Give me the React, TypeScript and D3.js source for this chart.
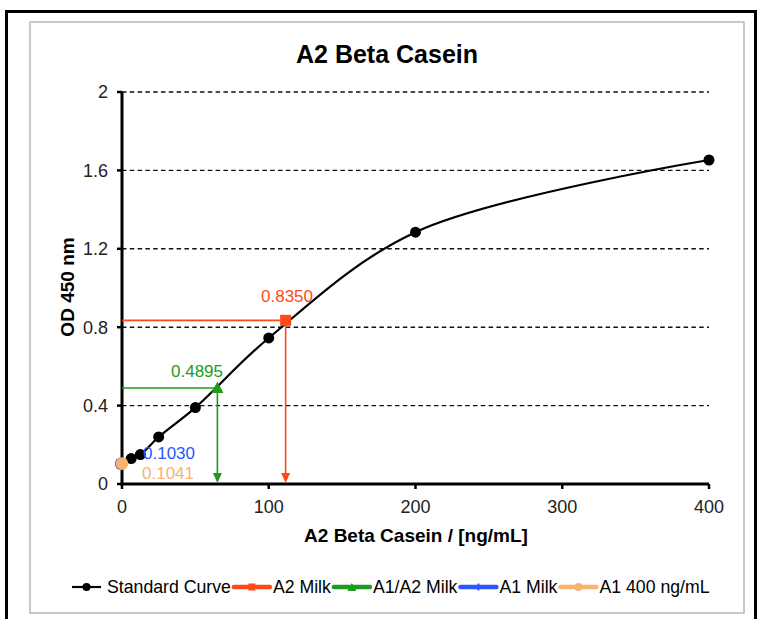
import React, { useEffect, useRef } from "react";
import * as d3 from "d3";

const stdX = [0, 6.25, 12.5, 25, 50, 100, 200, 400];
const stdY = [0.104, 0.13, 0.15, 0.24, 0.39, 0.745, 1.285, 1.653];

const samples = [
  { name: "A2 Milk", x: 111.5, y: 0.835, label: "0.8350", color: "#FF4A17", shape: "square" },
  { name: "A1/A2 Milk", x: 65, y: 0.4895, label: "0.4895", color: "#1E9A1E", shape: "triangle" },
  { name: "A1 Milk", x: 0, y: 0.103, label: "0.1030", color: "#2A55FF", shape: "circle" },
  { name: "A1 400 ng/mL", x: 0, y: 0.1041, label: "0.1041", color: "#F9B272", shape: "circle" },
];

const yTicks = [0, 0.4, 0.8, 1.2, 1.6, 2];
const yTickLabels = ["0", "0.4", "0.8", "1.2", "1.6", "2"];
const xTicks = [0, 100, 200, 300, 400];
const legendNames = ["Standard Curve", "A2 Milk", "A1/A2 Milk", "A1 Milk", "A1 400 ng/mL"];
const legendColors = ["#000000", "#FF4A17", "#1E9A1E", "#2A55FF", "#F9B272"];

const FONT = "'Liberation Sans', Arial, Helvetica, sans-serif";

export default function App() {
  const ref = useRef<SVGSVGElement>(null);

  useEffect(() => {
    const svg = d3.select(ref.current);
    svg.selectAll("*").remove();

    const x = d3.scaleLinear().domain([0, 400]).range([122, 709]);
    const y = d3.scaleLinear().domain([0, 2]).range([484, 92]);

    // frames
    svg.append("rect").attr("x", 0).attr("y", 0).attr("width", 759).attr("height", 619).attr("fill", "#fff");
    svg.append("rect").attr("x", 6.5).attr("y", 11.5).attr("width", 749).attr("height", 620)
      .attr("fill", "none").attr("stroke", "#000").attr("stroke-width", 3);
    svg.append("rect").attr("x", 30).attr("y", 22).attr("width", 714).attr("height", 591)
      .attr("fill", "#fff").attr("stroke", "#b8b8b8").attr("stroke-width", 1.5);

    // title
    svg.append("text").attr("x", 387).attr("y", 63).attr("text-anchor", "middle")
      .attr("font-family", FONT).attr("font-weight", "bold").attr("font-size", 25).attr("fill", "#000")
      .text("A2 Beta Casein");

    // grid
    svg.append("g").selectAll("line").data(yTicks.filter(t => t > 0)).join("line")
      .attr("x1", x(0)).attr("x2", x(400)).attr("y1", d => y(d)).attr("y2", d => y(d))
      .attr("stroke", "#111").attr("stroke-width", 1.4).attr("stroke-dasharray", "4.5,3.3");

    // axes
    const g = svg.append("g");
    g.append("line").attr("x1", x(0)).attr("x2", x(0)).attr("y1", y(2)).attr("y2", y(0) + 1.5)
      .attr("stroke", "#000").attr("stroke-width", 3);
    g.append("line").attr("x1", x(0) - 1.5).attr("x2", x(400)).attr("y1", y(0)).attr("y2", y(0))
      .attr("stroke", "#000").attr("stroke-width", 3);
    g.selectAll(".yt").data(yTicks).join("line").attr("class", "yt")
      .attr("x1", x(0) - 5).attr("x2", x(0)).attr("y1", d => y(d)).attr("y2", d => y(d))
      .attr("stroke", "#000").attr("stroke-width", 2.5);
    g.selectAll(".xt").data(xTicks).join("line").attr("class", "xt")
      .attr("x1", d => x(d)).attr("x2", d => x(d)).attr("y1", y(0)).attr("y2", y(0) + 5)
      .attr("stroke", "#000").attr("stroke-width", 2.5);
    g.selectAll(".yl").data(yTicks).join("text").attr("class", "yl")
      .attr("x", x(0) - 14).attr("y", d => y(d)).attr("dy", "0.35em").attr("text-anchor", "end")
      .attr("font-family", FONT).attr("font-size", 18).attr("fill", "#222")
      .text((d, i) => yTickLabels[i]);
    g.selectAll(".xl").data(xTicks).join("text").attr("class", "xl")
      .attr("x", d => x(d)).attr("y", 513).attr("text-anchor", "middle")
      .attr("font-family", FONT).attr("font-size", 18).attr("fill", "#222")
      .text(d => String(d));

    svg.append("text").attr("x", 416).attr("y", 542).attr("text-anchor", "middle")
      .attr("font-family", FONT).attr("font-weight", "bold").attr("font-size", 19).attr("fill", "#000")
      .text("A2 Beta Casein / [ng/mL]");
    svg.append("text").attr("transform", "translate(74,287) rotate(-90)").attr("text-anchor", "middle")
      .attr("font-family", FONT).attr("font-weight", "bold").attr("font-size", 19).attr("fill", "#000")
      .text("OD 450 nm");

    // guide lines for A2 and A1/A2
    const arrow = (cx: number, color: string) => {
      const tip = y(0) - 1;
      svg.append("path").attr("d", `M${cx - 4.5},${tip - 10} L${cx + 4.5},${tip - 10} L${cx},${tip} Z`).attr("fill", color);
    };
    samples.slice(0, 2).forEach(s => {
      svg.append("line").attr("x1", x(0)).attr("x2", x(s.x)).attr("y1", y(s.y)).attr("y2", y(s.y))
        .attr("stroke", s.color).attr("stroke-width", 1.6);
      svg.append("line").attr("x1", x(s.x)).attr("x2", x(s.x)).attr("y1", y(s.y)).attr("y2", y(0) - 8)
        .attr("stroke", s.color).attr("stroke-width", 1.6);
      arrow(x(s.x), s.color);
    });

    // standard curve
    const pts = stdX.map((v, i) => [v, stdY[i]] as [number, number]);
    const line = d3.line<[number, number]>().x(d => x(d[0])).y(d => y(d[1])).curve(d3.curveCatmullRom.alpha(0.5));
    svg.append("path").attr("d", line(pts)).attr("fill", "none").attr("stroke", "#000").attr("stroke-width", 2.2);
    svg.append("g").selectAll("circle").data(pts.slice(1)).join("circle")
      .attr("cx", d => x(d[0])).attr("cy", d => y(d[1])).attr("r", 5.5).attr("fill", "#000");

    // sample markers
    const marker = (sel: any, shape: string, cx: number, cy: number, color: string, size: number) => {
      if (shape === "square") {
        sel.append("rect").attr("x", cx - size).attr("y", cy - size).attr("width", size * 2).attr("height", size * 2).attr("fill", color);
      } else if (shape === "triangle") {
        const h = size * 2;
        sel.append("path").attr("d", `M${cx},${cy - h * 0.6} L${cx + size * 1.1},${cy + h * 0.45} L${cx - size * 1.1},${cy + h * 0.45} Z`).attr("fill", color);
      } else {
        sel.append("circle").attr("cx", cx).attr("cy", cy).attr("r", size).attr("fill", color);
      }
    };
    samples.forEach(s => {
      marker(svg, s.shape, x(s.x) + (s.name === "A1 Milk" ? -0.8 : 0), y(s.y), s.color, s.shape === "circle" ? 6.3 : 5.5);
    });

    // value labels
    const labelPos = [[287, 296], [197, 371], [169, 453], [168, 473]];
    samples.forEach((s, i) => {
      svg.append("text").attr("x", labelPos[i][0]).attr("y", labelPos[i][1]).attr("dy", "0.35em")
        .attr("text-anchor", "middle").attr("font-family", FONT).attr("font-size", 17).attr("fill", s.color)
        .text(s.label);
    });

    // legend
    const lg = svg.append("g");
    let lx = 72;
    const ly = 587;
    const shapes = ["circle", "square", "triangle", "dash", "circle"];
    legendNames.forEach((name, i) => {
      const len = i === 0 ? 29 : 36;
      const gap = i === 0 ? 6 : 3;
      const c = legendColors[i];
      lg.append("line").attr("x1", lx).attr("x2", lx + len).attr("y1", ly).attr("y2", ly)
        .attr("stroke", c).attr("stroke-width", i === 0 ? 2.2 : 4.5).attr("stroke-linecap", i === 0 ? "butt" : "round");
      const mx = lx + len / 2;
      if (i === 0) lg.append("circle").attr("cx", mx).attr("cy", ly).attr("r", 4).attr("fill", c);
      else if (shapes[i] === "square") lg.append("rect").attr("x", mx - 3.5).attr("y", ly - 3.5).attr("width", 7).attr("height", 7).attr("fill", c);
      else if (shapes[i] === "triangle") lg.append("path").attr("d", `M${mx},${ly - 4} L${mx + 4.5},${ly + 4} L${mx - 4.5},${ly + 4} Z`).attr("fill", c);
      else if (shapes[i] === "dash") lg.append("rect").attr("x", mx - 1).attr("y", ly - 3.5).attr("width", 2).attr("height", 7).attr("fill", c);
      else lg.append("circle").attr("cx", mx).attr("cy", ly).attr("r", 4).attr("fill", c);
      const t = lg.append("text").attr("x", lx + len + gap).attr("y", ly).attr("dy", "0.35em")
        .attr("font-family", FONT).attr("font-size", 17.7).attr("fill", "#000").text(name);
      const w = (t.node() as SVGTextElement).getComputedTextLength();
      lx = lx + len + gap + w + 3;
    });
  }, []);

  return (
    <svg ref={ref} width={759} height={619} style={{ position: "absolute", left: 0, top: 0, display: "block" }} />
  );
}
